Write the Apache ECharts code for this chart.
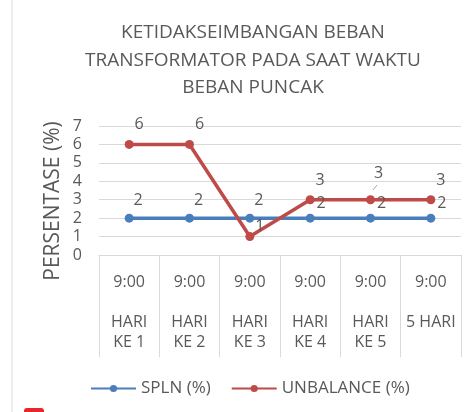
<!DOCTYPE html>
<html><head><meta charset="utf-8">
<script src="https://cdn.jsdelivr.net/npm/echarts@6/dist/echarts.min.js"></script>
<style>html,body{margin:0;padding:0;background:#fff}#c{width:470px;height:412px}</style>
</head><body><div id="c"></div>
<script>
const titleText = 'KETIDAKSEIMBANGAN BEBAN\nTRANSFORMATOR PADA SAAT WAKTU\nBEBAN PUNCAK';
const yAxisTitle = 'PERSENTASE (%)';
const times = ['9:00','9:00','9:00','9:00','9:00','9:00'];
const days = ['HARI\nKE 1','HARI\nKE 2','HARI\nKE 3','HARI\nKE 4','HARI\nKE 5','5 HARI'];
const splnValues = [2,2,2,2,2,2];
const unbalanceValues = [6,6,1,3,3,3];
const yTicks = [0,1,2,3,4,5,6,7];
const seriesNames = ['SPLN (%)','UNBALANCE (%)'];

const categories = times.map((t,i)=> t + '\n\n' + days[i]);
const font = '"Open Sans", sans-serif';
const gray = '#595959';
// label placement tweaks (manually moved labels in the original)
const redOffsets = {2:[10,7], 4:[8,-9]};
const blueOffsets = {3:[11,3], 4:[11,3], 5:[11,3]};
const unbalanceData = unbalanceValues.map((v,i)=> redOffsets[i] ? {value:v,label:{offset:redOffsets[i]}} : v);
const splnData = splnValues.map((v,i)=> blueOffsets[i] ? {value:v,label:{offset:blueOffsets[i]}} : v);

const chart = echarts.init(document.getElementById('c'));
chart.setOption({
  animation:false,
  backgroundColor:'#fff',
  title:{text:titleText,left:248,textAlign:'center',top:14,textStyle:{fontFamily:font,fontSize:19,fontWeight:'normal',color:gray,lineHeight:27.5}},
  grid:{left:99,right:9,top:126,bottom:157},
  legend:{top:375,left:85,itemWidth:45,itemHeight:9,itemGap:20,textStyle:{fontFamily:font,fontSize:17,color:gray},data:seriesNames},
  xAxis:{type:'category',data:categories,boundaryGap:true,
    axisLine:{show:true,lineStyle:{color:'#d9d9d9',width:1}},
    axisTick:{show:true,length:102,inside:false,lineStyle:{color:'#d9d9d9'}},
    axisLabel:{fontFamily:font,fontSize:16,color:gray,lineHeight:20,margin:17,interval:0}},
  yAxis:{type:'value',min:yTicks[0],max:yTicks[yTicks.length-1],interval:1,
    axisLine:{show:false},axisTick:{show:false},
    axisLabel:{fontFamily:font,fontSize:16,color:gray,margin:17},
    splitLine:{lineStyle:{color:'#d9d9d9',width:1}}},
  series:[
    {name:seriesNames[0],type:'line',data:splnData,symbol:'circle',symbolSize:9,
     itemStyle:{color:'#4A7EBB'},lineStyle:{width:3.5,color:'#4A7EBB'},
     label:{show:true,position:'top',offset:[9,0],fontFamily:font,fontSize:16,color:gray}},
    {name:seriesNames[1],type:'line',data:unbalanceData,symbol:'circle',symbolSize:9,
     itemStyle:{color:'#BE4B48'},lineStyle:{width:3.5,color:'#BE4B48'},
     label:{show:true,position:'top',offset:[10,-2],fontFamily:font,fontSize:16,color:gray}}
  ],
  graphic:[
    {type:'line',shape:{x1:12,y1:0,x2:12,y2:412},style:{stroke:'#d9d9d9',lineWidth:1}},
    {type:'text',x:53,y:201,rotation:Math.PI/2,style:{text:yAxisTitle,font:'21px "Open Sans", sans-serif',fill:gray,textAlign:'center',textVerticalAlign:'middle'}},
    {type:'line',shape:{x1:373,y1:190,x2:377,y2:185},style:{stroke:'#a6a6a6',lineWidth:1}},
    {type:'rect',shape:{x:24,y:408,width:20,height:10,r:3},style:{fill:'#e8262b'}}
  ]
});
</script></body></html>
